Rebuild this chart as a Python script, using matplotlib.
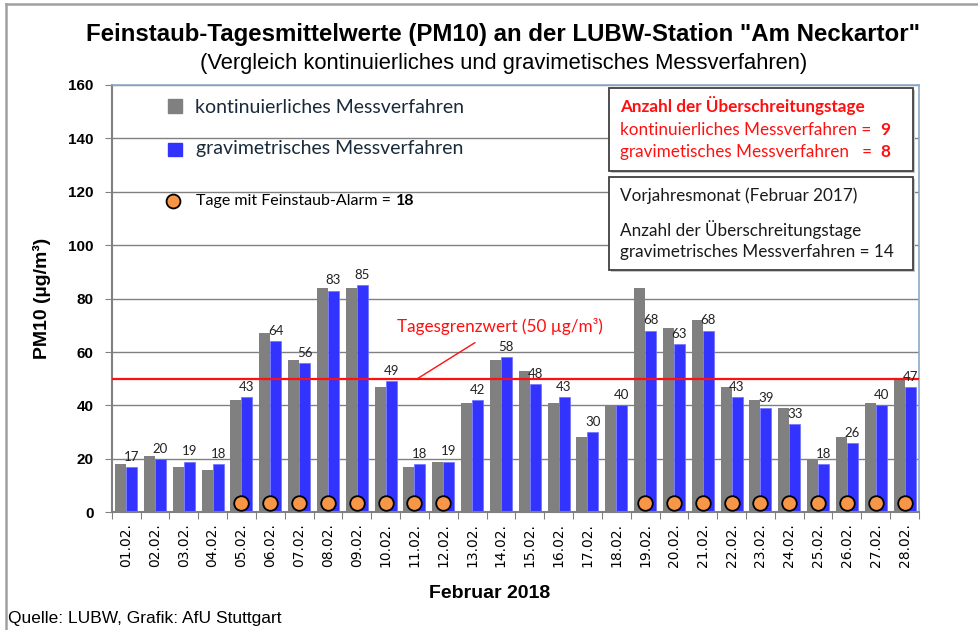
import numpy as np
import matplotlib.pyplot as plt
from matplotlib.lines import Line2D
from matplotlib.patches import Rectangle

# Tageswerte Februar 2018, Station Am Neckartor
tage = [f"{d:02d}.02." for d in range(1, 29)]
kontinuierlich = [18, 21, 17, 16, 42, 67, 57, 84, 84, 47, 17, 19, 41, 57,
                  53, 41, 28, 40, 84, 69, 72, 47, 42, 39, 20, 28, 41, 50]
gravimetrisch = [17, 20, 19, 18, 43, 64, 56, 83, 85, 49, 18, 19, 42, 58,
                 48, 43, 30, 40, 68, 63, 68, 43, 39, 33, 18, 26, 40, 47]
alarm = [0, 0, 0, 0, 1, 1, 1, 1, 1, 1, 1, 1, 0, 0,
         0, 0, 0, 0, 1, 1, 1, 1, 1, 1, 1, 1, 1, 1]
grenzwert = 50

NARROW = ["Liberation Sans Narrow", "Liberation Sans"]
BODY = ["Lato", "DejaVu Sans"]
GRAU = "#808080"
BLAU = "#3333FF"
ROT = "#FF1010"
ORANGE = "#F79646"

fig = plt.figure(figsize=(9.79, 6.30), dpi=100)
ax = fig.add_axes([0.1141, 0.1869, 0.8246, 0.6782])

x = np.arange(len(tage))
w = 0.38
ax.bar(x - w / 2, kontinuierlich, w, color=GRAU, zorder=2)
ax.bar(x + w / 2, gravimetrisch, w, color=BLAU, edgecolor="#6f6fff", linewidth=0.5, zorder=2)

# Werte über den gravimetrischen Balken
for xi, v in zip(x, gravimetrisch):
    ax.annotate(str(v), (xi + w / 2, v), xytext=(0, 3), textcoords="offset points",
                ha="center", va="bottom", fontsize=9.5, family=BODY, color="#222222", zorder=4)

# Feinstaub-Alarm
alarm_y = 3.5
ax_x = [xi for xi, a in zip(x, alarm) if a]
ax.plot(ax_x, [alarm_y] * len(ax_x), "o", ms=10.5, mfc=ORANGE, mec="black", mew=1.3,
        zorder=5, clip_on=False)

# Grenzwert
ax.axhline(grenzwert, color=ROT, lw=1.6, zorder=3)
ax.annotate("Tagesgrenzwert (50 µg/m³)", xy=(10.1, grenzwert), xytext=(12.97, 69.4),
            ha="center", va="center", fontsize=12.3, family=BODY, color=ROT,
            arrowprops=dict(arrowstyle="-", color=ROT, lw=1.0, shrinkA=6, shrinkB=0))

ax.set_xlim(-0.5, len(tage) - 0.5)
ax.set_ylim(0, 160)
ax.set_yticks(range(0, 161, 20))
ax.yaxis.grid(True, color=GRAU, lw=1.0, zorder=0)
ax.set_axisbelow(True)
ax.set_xticks(np.arange(-0.5, len(tage), 1), minor=False)
ax.set_xticklabels([])
ax.set_xticks(x, minor=True)
ax.set_xticklabels(tage, minor=True, rotation=90, fontsize=10, family="DejaVu Sans")
ax.tick_params(axis="x", which="major", length=5, color=GRAU, direction="out")
ax.tick_params(axis="x", which="minor", length=0, pad=8)
ax.tick_params(axis="y", length=5, color=GRAU, pad=8)
for lab in ax.get_yticklabels():
    lab.set_fontweight("bold")
    lab.set_fontsize(11)
    lab.set_family("Liberation Sans")

for s in ["left", "bottom"]:
    ax.spines[s].set_color(GRAU)
    ax.spines[s].set_linewidth(1.5)
for s in ["top", "right"]:
    ax.spines[s].set_color("#8ea9c8")
    ax.spines[s].set_linewidth(1.2)

ax.set_ylabel("PM10 (µg/m³)", fontsize=14, fontweight="bold", family="Liberation Sans", labelpad=12)

tr = ax.transAxes


def zeile(xp, yp, teile, size, color, z=8):
    # Textzeile aus mehreren Stücken (normal / fett) hintereinander setzen
    t = None
    for txt, fett in teile:
        kw = dict(fontsize=size, family=BODY, color=color, va="center", zorder=z,
                  fontweight="bold" if fett else "normal")
        if t is None:
            t = ax.text(xp, yp, txt, transform=tr, ha="left", **kw)
        else:
            t = ax.annotate(txt, xy=(1, 0.5), xycoords=t, ha="left", **kw)
    return t


# Legende
ax.add_patch(Rectangle((0.0784 - 0.0087, 0.951 - 0.016), 0.0174, 0.032, transform=tr,
                       color=GRAU, zorder=6))
ax.add_patch(Rectangle((0.0784 - 0.0087, 0.849 - 0.016), 0.0174, 0.032, transform=tr,
                       color=BLAU, zorder=6))
ax.plot([0.0765], [0.7286], "o", ms=10, mfc=ORANGE, mec="black", mew=1.3, transform=tr, zorder=6)
zeile(0.1031, 0.948, [("kontinuierliches Messverfahren", False)], 14, "#1a2a3a")
zeile(0.1045, 0.852, [("gravimetrisches Messverfahren", False)], 14, "#1a2a3a")
zeile(0.1050, 0.7275, [("Tage mit Feinstaub-Alarm = ", False), ("18", True)], 11.5, "black")


def kasten(y0, y1):
    ax.add_patch(Rectangle((0.618, y0 - 0.005), 0.377, y1 - y0, transform=tr,
                           facecolor="#c8c8c8", edgecolor="none", zorder=6, clip_on=False))
    ax.add_patch(Rectangle((0.616, y0), 0.377, y1 - y0, transform=tr,
                           facecolor="white", edgecolor="#404040", lw=1.3, zorder=7, clip_on=False))


kasten(0.799, 0.993)
kasten(0.567, 0.785)

tx = 0.6296
zeile(tx, 0.951, [("Anzahl der Überschreitungstage", True)], 12.3, ROT)
zeile(tx, 0.895, [("kontinuierliches Messverfahren =  ", False), ("9", True)], 12.3, ROT)
zeile(tx, 0.844, [("gravimetisches Messverfahren   =  ", False), ("8", True)], 12.3, ROT)

zeile(tx, 0.742, [("Vorjahresmonat (Februar 2017)", False)], 12.3, "#1a1a1a")
zeile(tx, 0.661, [("Anzahl der Überschreitungstage", False)], 12.3, "#1a1a1a")
zeile(tx, 0.608, [("gravimetrisches Messverfahren = 14", False)], 12.3, "#1a1a1a")

# Titel und Beschriftungen
fig.text(0.514, 0.946, 'Feinstaub-Tagesmittelwerte (PM10) an der LUBW-Station "Am Neckartor"',
         ha="center", va="center", fontsize=17.3, fontweight="bold", family=NARROW)
fig.text(0.514, 0.900, "(Vergleich kontinuierliches und gravimetisches Messverfahren)",
         ha="center", va="center", fontsize=15.8, family=NARROW)
fig.text(0.500, 0.058, "Februar 2018", ha="center", va="center", fontsize=14,
         fontweight="bold", family=NARROW)
fig.text(0.008, 0.019, "Quelle: LUBW, Grafik: AfU Stuttgart", ha="left", va="center",
         fontsize=12.5, family=NARROW)

# Rahmen
fig.add_artist(Line2D([6 / 979, 6 / 979], [0, 1 - 4 / 630], color="#a0a0a0", lw=1.8))
fig.add_artist(Line2D([6 / 979, 1], [1 - 4 / 630, 1 - 4 / 630], color="#a0a0a0", lw=1.8))

fig.savefig("out.png", dpi=100)
